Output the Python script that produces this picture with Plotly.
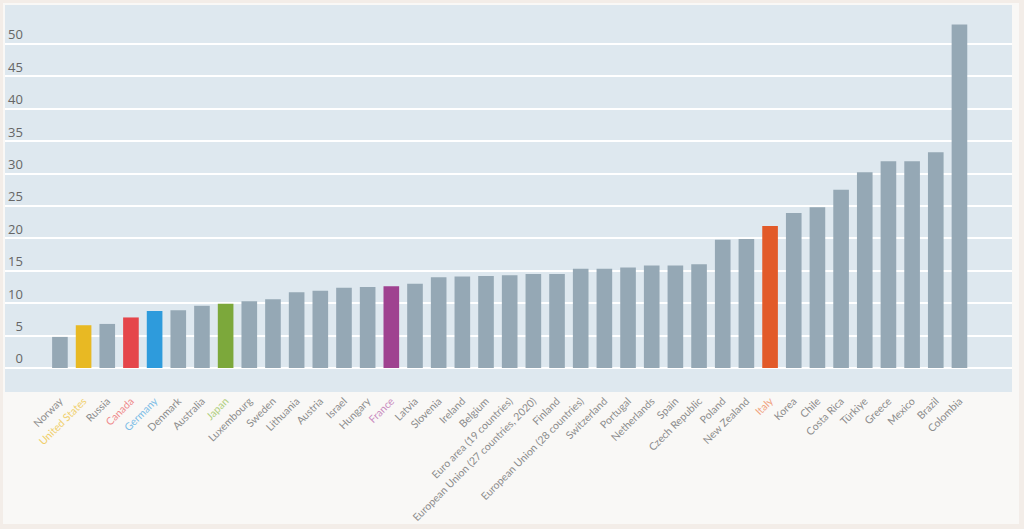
import plotly.graph_objects as go

categories = ["Norway", "United States", "Russia", "Canada", "Germany", "Denmark", "Australia",
              "Japan", "Luxembourg", "Sweden", "Lithuania", "Austria", "Israel", "Hungary", "France",
              "Latvia", "Slovenia", "Ireland", "Belgium", "Euro area (19 countries)",
              "European Union (27 countries, 2020)", "Finland", "European Union (28 countries)",
              "Switzerland", "Portugal", "Netherlands", "Spain", "Czech Republic", "Poland",
              "New Zealand", "Italy", "Korea", "Chile", "Costa Rica", "Türkiye", "Greece",
              "Mexico", "Brazil", "Colombia"]
values = [4.8, 6.6, 6.8, 7.8, 8.8, 8.9, 9.6, 9.9, 10.3, 10.6, 11.7, 11.9, 12.4, 12.5, 12.6,
          13.0, 14.0, 14.1, 14.2, 14.3, 14.5, 14.5, 15.3, 15.3, 15.5, 15.8, 15.8, 16.0, 19.8,
          19.9, 21.9, 23.9, 24.8, 27.5, 30.2, 31.9, 31.9, 33.3, 53.0]
highlight_colors = {"United States": "#e8b923", "Canada": "#e5464b", "Germany": "#2e9bdc",
                    "Japan": "#7ca83b", "France": "#9f4290", "Italy": "#e25a29"}
label_colors = {"United States": "#f0cf6a", "Canada": "#ef8a8c", "Germany": "#7cbde6",
                "Japan": "#b0cf7e", "France": "#c98bbf", "Italy": "#f0a07c"}
ytick_vals = [0, 5, 10, 15, 20, 25, 30, 35, 40, 45, 50]
ytick_text = ["\u20070", "\u20075", "10", "15", "20", "25", "30", "35", "40", "45", "50"]

GRAY = "#95a8b5"
PANEL = "#dee8ef"
bar_colors = [highlight_colors.get(c, GRAY) for c in categories]
ticktext = []
for c in categories:
    if c in label_colors:
        ticktext.append(f'<span style="color:{label_colors[c]}">{c}</span>')
    else:
        ticktext.append(c)

x_idx = list(range(len(categories)))

fig = go.Figure(go.Bar(x=x_idx, y=values, marker=dict(color=bar_colors, line=dict(width=0)),
                       width=0.66, hoverinfo="skip"))

fig.update_layout(
    width=1024, height=529,
    margin=dict(l=5, r=12, t=5, b=137),
    paper_bgcolor="#f3ede8",
    plot_bgcolor=PANEL,
    showlegend=False,
    font=dict(family="Lato", color="#8a8a8a"),
    shapes=[
        dict(type="rect", xref="paper", yref="paper", x0=-0.002, x1=1.007, y0=-0.341, y1=1.005,
             fillcolor="#f9f8f6", line=dict(width=0), layer="below"),
        dict(type="rect", xref="paper", yref="paper", x0=0, x1=1, y0=0, y1=1,
             fillcolor=PANEL, line=dict(width=0), layer="below"),
    ],
)
fig.update_xaxes(
    range=[-2.32, 40.22], automargin=False,
    tickmode="array", tickvals=x_idx, ticktext=ticktext,
    tickangle=-45, tickfont=dict(size=10.5, color="#8c8c8c", family="Lato"),
    showgrid=False, zeroline=False, showline=False, ticks="",
)
fig.update_yaxes(
    range=[-3.7, 56], automargin=False,
    tickmode="array", tickvals=ytick_vals, ticktext=ytick_text,
    ticklabelposition="inside top",
    tickfont=dict(size=13, color="#666666", family="Open Sans"),
    showgrid=True, gridcolor="#ffffff", gridwidth=1.6,
    zeroline=True, zerolinecolor="#ffffff", zerolinewidth=1.6,
    showline=False, ticks="",
)

fig.write_html(
    "out.html",
    config={"displayModeBar": False},
    post_script="document.body.style.margin='0';document.body.style.overflow='hidden';",
)
